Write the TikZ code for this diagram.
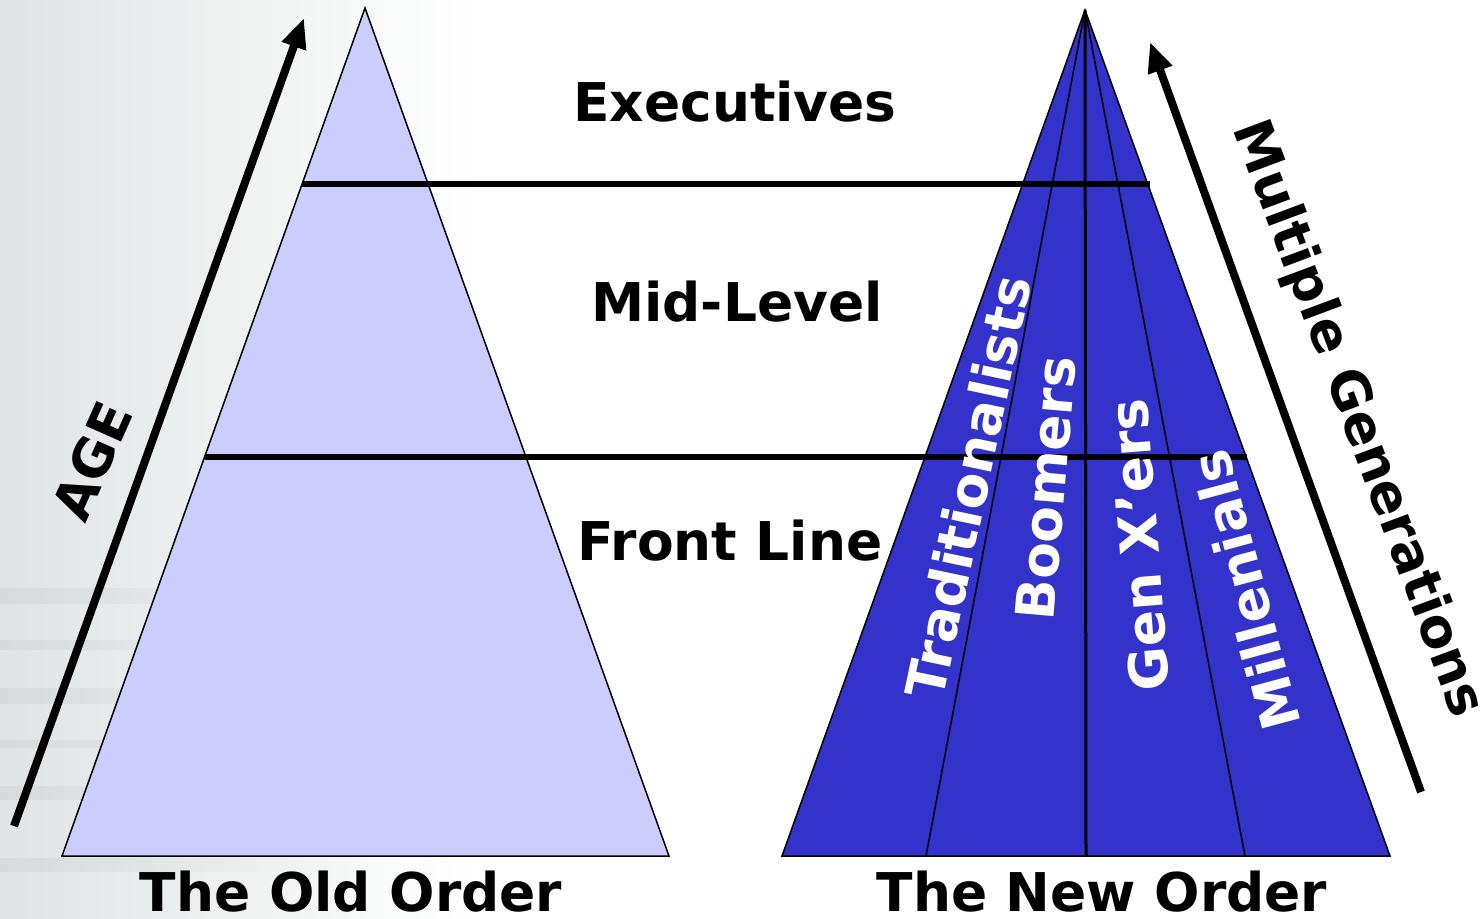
\documentclass[tikz,border=0pt]{standalone}
\usepackage{fontspec}
\setmainfont{DejaVu Sans}
\usetikzlibrary{arrows.meta,fadings}
\definecolor{paleblue}{HTML}{CCCCFF}
\definecolor{deepblue}{HTML}{3333CC}
\definecolor{bggray}{RGB}{224,228,228}
\tikzset{
  lbl/.style={font=\fontsize{26.7}{32}\selectfont\bfseries, inner sep=0pt},
  genlbl/.style={lbl, text=white},
  tier/.style={line width=3.4pt, draw=black},
  pyredge/.style={line width=0.75pt, draw=black, line join=miter},
  divider/.style={line width=0.75pt, draw=black},
  trend/.style={line width=4pt, draw=black, -{Triangle[length=15pt,width=12pt]}},
  band/.style={fill=black, opacity=0.045, path fading=east},
}
\begin{document}
\begin{tikzpicture}[x=0.5pt,y=-0.5pt]
\useasboundingbox (0,0) rectangle (1483,919);

% soft grey backdrop fading out to the right
\fill[white] (0,0) rectangle (1483,919);
\shade[left color=bggray, middle color=bggray!55, right color=white] (0,0) rectangle (480,919);
\fill[band] (0,588) rectangle (360,604);
\fill[band] (0,640) rectangle (300,650);
\fill[band] (0,688) rectangle (380,704);
\fill[band] (0,740) rectangle (330,748);
\fill[band] (0,786) rectangle (400,800);
\fill[band] (0,858) rectangle (380,872);

% corner points of the two pyramids
\coordinate (oldtop) at (365,8);
\coordinate (oldl)   at (62,856);
\coordinate (oldr)   at (669,856);
\coordinate (newtop) at (1085,10);
\coordinate (newl)   at (782,856);
\coordinate (newr)   at (1390,856);
\coordinate (d1)     at (926,856);
\coordinate (d2)     at (1086,856);
\coordinate (d3)     at (1245,856);

% the old order: one pale pyramid
\path[fill=paleblue, pyredge] (oldtop) -- (oldl) -- (oldr) -- cycle;

% the new order: a dark pyramid split into four generations
\fill[deepblue] (newtop) -- (newl) -- (newr) -- cycle;
\draw[divider] (newtop) -- (d1);
\draw[divider, line width=1.5pt] (newtop) -- (d2);
\draw[divider] (newtop) -- (d3);
\path[pyredge] (newtop) -- (newl) -- (newr) -- cycle;

% tier boundaries running across both pyramids
\coordinate (t1l) at (302,184);
\coordinate (t1r) at (1150,184);
\coordinate (t2l) at (205,457);
\coordinate (t2r) at (1247,457);
\path[tier] (t1l) -- (t1r);
\path[tier] (t2l) -- (t2r);

% tier names
\node[lbl, anchor=base] (exec)  at (735,122) {Executives};
\node[lbl, anchor=base] (mid)   at (737,322) {Mid-Level};
\node[lbl, anchor=base] (front) at (730,560) {Front Line};

% captions
\node[lbl, anchor=base] (oldcap) at (351,911) {The Old Order};
\node[lbl, anchor=base] (newcap) at (1102,911) {The New Order};

% generation names
\node[genlbl, rotate=78]  (trad) at (968,487) {Traditionalists};
\node[genlbl, rotate=85]  (boom) at (1046,488) {Boomers};
\node[genlbl, rotate=94.5] (genx) at (1139,545) {Gen X’ers};
\node[genlbl, rotate=105] (mill) at (1245,590) {Millenials};

% side arrows
\coordinate (agefoot) at (14,826);
\coordinate (agetip)  at (304,18);
\path[trend] (agefoot) -- (agetip);
\node[lbl, rotate=66] (age) at (92,461) {AGE};

\coordinate (genfoot) at (1421,792);
\coordinate (gentip)  at (1150,42);
\path[trend] (genfoot) -- (gentip);
\node[lbl, rotate=-69.5] (multi) at (1357,419) {Multiple Generations};

\end{tikzpicture}
\end{document}
